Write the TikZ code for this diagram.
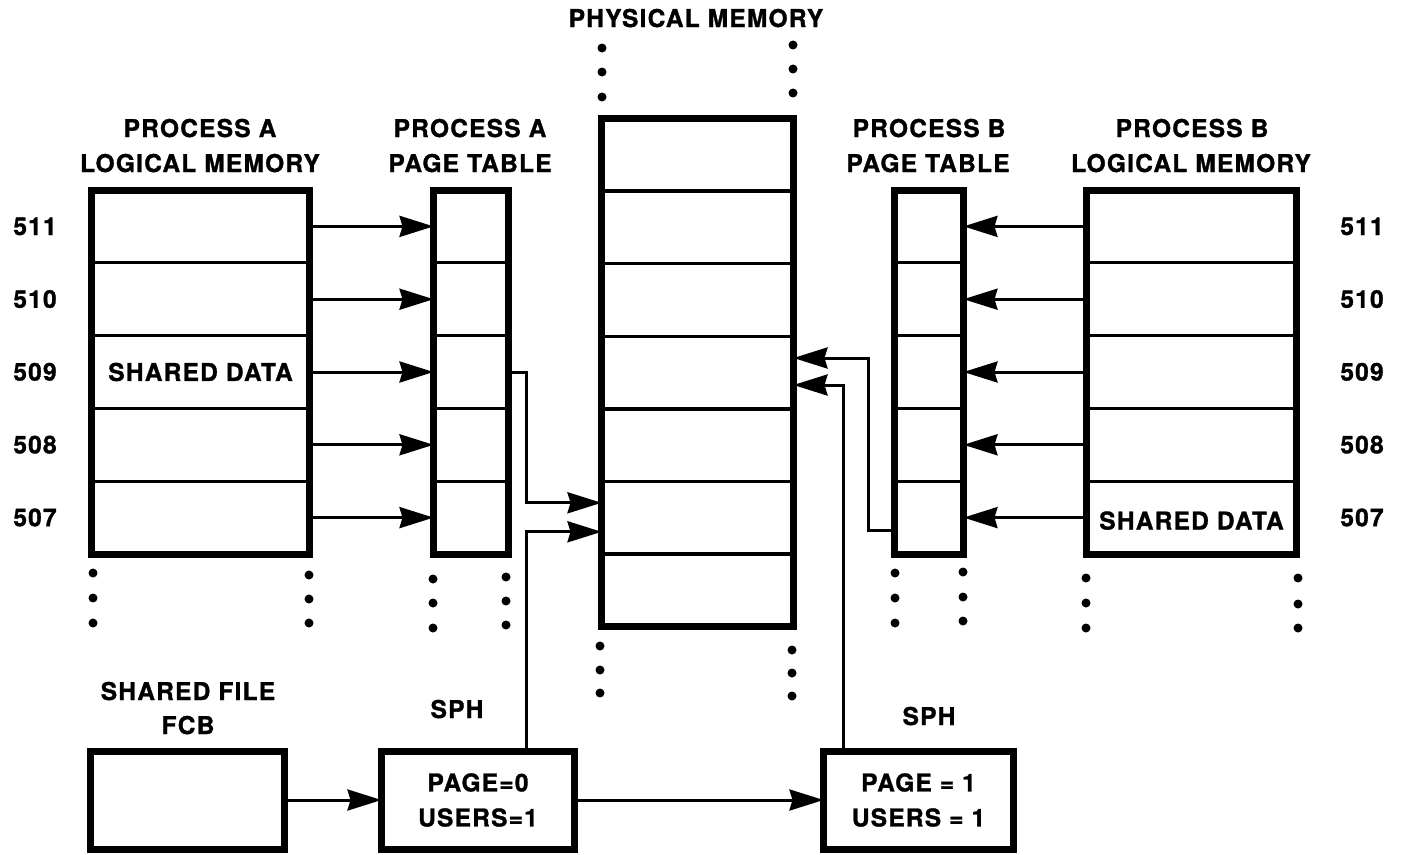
\documentclass[tikz,border=0pt]{standalone}
\usepackage{fontspec}
\setmainfont{TeX Gyre Heros}[LetterSpace=5,BoldFeatures={FakeBold=1.2}]
\usetikzlibrary{arrows.meta}
\begin{document}
\begin{tikzpicture}[x=1pt,y=-1pt,
  every node/.style={font=\bfseries\fontsize{24.5}{35}\selectfont, inner sep=0pt, outer sep=0pt},
  cell/.style={draw, line width=3.3pt, minimum height=72.8pt, minimum width=#1},
  pmcell/.style={draw, line width=3.3pt, minimum height=72.6pt, minimum width=192pt},
  frame/.style={line width=7pt},
  conn/.style={line width=3pt, -{Stealth[length=34pt,width=21pt,inset=3pt]}},
  fbox/.style={draw, line width=7pt, minimum height=98pt, minimum width=#1, align=center},
  title/.style={anchor=base},
  num/.style={anchor=base}
]
\fill[white] (0,0) rectangle (1407,854);
\useasboundingbox (0,0) rectangle (1407,854);

% logical memories, page tables and page numbers
\foreach \i in {0,...,4}{
  \node[cell=218pt] (aL\i) at (200.5,{226.4+72.8*\i}) {};
  \node[cell=74.5pt] (aP\i) at (470.75,{226.4+72.8*\i}) {};
  \node[cell=69pt] (bP\i) at (929,{226.4+72.8*\i}) {};
  \node[cell=210pt] (bL\i) at (1191.5,{226.4+72.8*\i}) {};
  \pgfmathtruncatemacro\n{511-\i}
  \node[num] (nA\i) at (35,{226.4+72.8*\i+8.6}) {\n};
  \node[num] (nB\i) at (1362,{226.4+72.8*\i+8.6}) {\n};
}
\node (sdA) at (aL2) {SHARED DATA};
\node (sdB) at ([yshift=-3pt]bL4) {SHARED DATA};

% physical memory
\foreach \i in {0,...,6}
  \node[pmcell] (pm\i) at (697.5,{154.8+72.6*\i}) {};

% heavy outer frames
\draw[frame] (aL0.north west) rectangle (aL4.south east);
\draw[frame] (aP0.north west) rectangle (aP4.south east);
\draw[frame] (bP0.north west) rectangle (bP4.south east);
\draw[frame] (bL0.north west) rectangle (bL4.south east);
\draw[frame] (pm0.north west) rectangle (pm6.south east);

% continuation dots
\foreach \x/\y in {93/573,93/598,93/623,309/575,309/599,309/623,
                   433/579,433/603,433/628,506/577,506/601,506/625,
                   895/573,895/598,895/623,963/572,963/597,963/621,
                   1086/578,1086/603,1086/628,1298/578,1298/604,1298/628,
                   602/48,602/72,602/97,793/45,793/69,793/93,
                   600/646,600/670,600/693,792/650,792/673,792/696}
  \fill (\x,\y) circle[radius=4.5pt];

% titles
\node[title] (tA1) at (200,137) {PROCESS A};
\node[title] (tA2) at (200,172) {LOGICAL MEMORY};
\node[title] (tP1) at (470,137) {PROCESS A};
\node[title] (tP2) at (470,172) {PAGE TABLE};
\node[title] (tM) at (696,27) {PHYSICAL MEMORY};
\node[title] (tQ1) at (929,137) {PROCESS B};
\node[title] (tQ2) at (928,172) {PAGE TABLE};
\node[title] (tB1) at (1192,137) {PROCESS B};
\node[title] (tB2) at (1191,172) {LOGICAL MEMORY};

% file control block and shared page headers
\node[fbox=194pt] (fcb) at (187.5,800) {};
\node[fbox=193pt] (sph0) at (478,800) {PAGE=0\\USERS=1};
\node[fbox=190pt] (sph1) at (918.5,800) {PAGE = 1\\USERS = 1};
\node[title] (fl1) at (188,700) {SHARED FILE};
\node[title] (fl2) at (188,734) {FCB};
\node[title] (s0) at (457,718) {SPH};
\node[title] (s1) at (929,725) {SPH};

% page table entries
\foreach \i in {0,...,4}{
  \draw[conn] (aL\i.east) -- (aP\i.west);
  \draw[conn] (bL\i.west) -- (bP\i.east);
}

% mappings into physical memory
\coordinate (jA) at (526.5,0);
\coordinate (jB) at (868,0);
\coordinate (jC) at (843,0);
\draw[conn] (aP2.east) -- (aP2.east -| jA) |- ([yshift=15pt]pm5.west);
\draw[conn] (sph0.north -| jA) |- ([yshift=-14pt]pm5.west);
\coordinate (bx) at ([yshift=-12.4pt]bP4.west);
\draw[conn] (bx) -- (bx -| jB) |- ([yshift=14.6pt]pm3.east);
\draw[conn] (sph1.north -| jC) |- ([yshift=-12.4pt]pm3.east);

% header chain
\draw[conn] (fcb.east) -- (sph0.west);
\draw[conn] (sph0.east) -- (sph1.west);
\end{tikzpicture}
\end{document}
